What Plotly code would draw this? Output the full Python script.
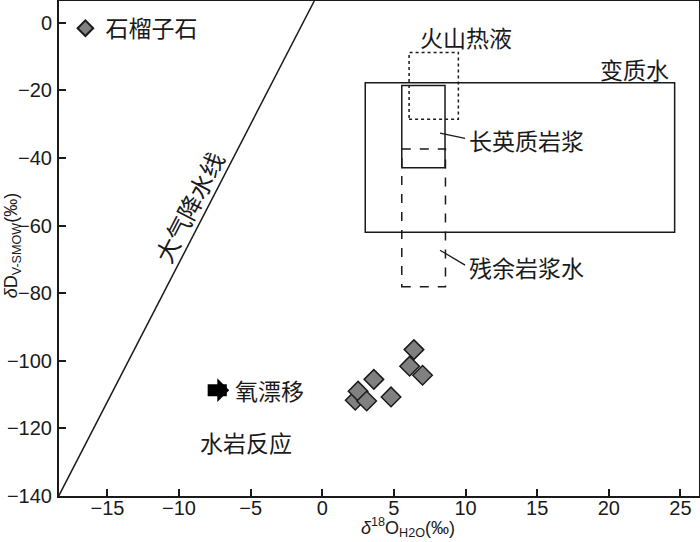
import plotly.graph_objects as go

# ---- data ----
garnet_o18 = [2.3, 2.5, 3.1, 3.6, 4.8, 6.1, 7.0, 6.4]
garnet_dD = [-111.7, -109.0, -111.9, -105.5, -110.7, -101.6, -104.3, -96.7]

mwl_x = [-18.4, -0.56]
mwl_y = [-140.0, 6.4]

box_names = ["变质水", "长英质岩浆", "残余岩浆水", "火山热液"]
box_x0 = [3.0, 5.55, 5.55, 6.06]
box_x1 = [24.6, 8.57, 8.6, 9.5]
box_y0 = [-62.0, -42.9, -78.1, -28.6]
box_y1 = [-17.8, -18.6, -37.4, -8.8]
box_dash = ["solid", "solid", "dash", "dot"]

x_ticks = [-15, -10, -5, 0, 5, 10, 15, 20, 25]
y_ticks = [-140, -120, -100, -80, -60, -40, -20, 0]

CJK = "Noto Sans CJK SC, sans-serif"
LAT = "Liberation Sans, Arial, sans-serif"
INK = "#1a1a1a"

fig = go.Figure()

fig.add_trace(go.Scatter(
    x=mwl_x, y=mwl_y, mode="lines",
    line=dict(color=INK, width=1.5), showlegend=False, hoverinfo="skip"))

fig.add_trace(go.Scatter(
    x=garnet_o18, y=garnet_dD, mode="markers", name="石榴子石",
    marker=dict(symbol="diamond", size=15, color="#808080",
                line=dict(color=INK, width=1.5))))

shapes = []
for x0, x1, y0, y1, d in zip(box_x0, box_x1, box_y0, box_y1, box_dash):
    shapes.append(dict(type="rect", xref="x", yref="y", x0=x0, x1=x1, y0=y0, y1=y1,
                       line=dict(color=INK, width=1.5, dash=d), fillcolor="rgba(0,0,0,0)"))
# leader lines
shapes.append(dict(type="line", xref="x", yref="y", x0=8.22, y0=-32.7, x1=9.97, y1=-34.2,
                   line=dict(color=INK, width=1.3)))
shapes.append(dict(type="line", xref="x", yref="y", x0=8.22, y0=-67.3, x1=9.97, y1=-71.7,
                   line=dict(color=INK, width=1.3)))

ann = []
def label(text, x, y, size=23, xanchor="center", angle=0):
    ann.append(dict(text=text, x=x, y=y, xref="x", yref="y", showarrow=False,
                    xanchor=xanchor, yanchor="middle", textangle=angle,
                    font=dict(family=CJK, size=size, color=INK)))

label("火山热液", 10.04, -4.3)
label("变质水", 21.8, -13.6)
label("长英质岩浆", 10.1, -34.7, xanchor="left")
label("残余岩浆水", 10.1, -72.2, xanchor="left")
label("大气降水线", -9.3, -54.5, size=24, angle=-62.7)
label("氧漂移", -6.25, -108.7, xanchor="left")
label("水岩反应", -8.7, -124.0, xanchor="left")

# drift arrow
ann.append(dict(text="", x=-6.5, y=-108.7, xref="x", yref="y", ax=-23, ay=0,
                showarrow=True, arrowhead=1, arrowsize=0.33, arrowwidth=12,
                arrowcolor="#000000", standoff=0))

# axis titles
ann.append(dict(text="<i>δ</i><sup>18</sup>O<sub>H2O</sub>(‰)", x=0.545, y=-0.063,
                xref="paper", yref="paper", showarrow=False, xanchor="center", yanchor="middle",
                font=dict(family=LAT, size=18, color=INK)))
ann.append(dict(text="<i>δ</i>D<sub>V-SMOW</sub>(‰)", x=-0.073, y=0.507,
                xref="paper", yref="paper", showarrow=False, xanchor="center", yanchor="middle",
                textangle=-90, font=dict(family=LAT, size=18, color=INK)))

axis_common = dict(showgrid=False, zeroline=False, showline=True, linecolor=INK, linewidth=2,
                   mirror=True, ticks="inside", ticklen=7, tickwidth=1.5, tickcolor=INK,
                   automargin=False,
                   tickfont=dict(family=LAT, size=20, color=INK))

fig.update_layout(
    width=700, height=542,
    margin=dict(l=59, r=1, t=1, b=46),
    plot_bgcolor="white", paper_bgcolor="white",
    xaxis=dict(range=[-18.38, 26.3], tickvals=x_ticks, ticklabelstandoff=-7, **axis_common),
    yaxis=dict(range=[-140, 6.4], tickvals=y_ticks, ticklabelstandoff=1, **axis_common),
    shapes=shapes, annotations=ann,
    showlegend=True,
    legend=dict(x=0.01, y=0.945, xanchor="left", yanchor="middle", bgcolor="rgba(0,0,0,0)",
                borderwidth=0, font=dict(family=CJK, size=23, color=INK),
                itemsizing="constant"),
)

fig.write_html(
    "out.html",
    config={"displayModeBar": False},
    post_script="document.body.style.margin='0';document.body.style.padding='0';"
                "document.body.style.overflow='hidden';",
)
